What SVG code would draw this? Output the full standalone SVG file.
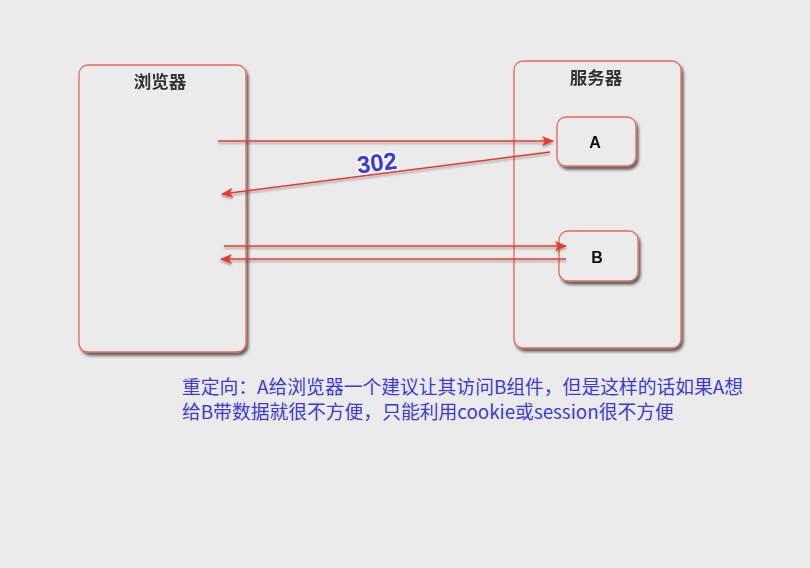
<svg xmlns="http://www.w3.org/2000/svg" width="810" height="568" viewBox="0 0 810 568">
<defs>
<style>
.box{fill:#ebebeb;stroke:#e8675a;stroke-width:1.3}
.title{font-family:"Liberation Sans","Noto Sans CJK SC",sans-serif;font-size:17.5px;font-weight:bold;fill:#333;text-anchor:middle}
.lbl{font-family:"Liberation Sans",sans-serif;font-size:16px;font-weight:bold;fill:#111;text-anchor:middle}
.conn{stroke:#e8392a;stroke-width:1.6;fill:none;marker-end:url(#ah)}
.note{font-family:"Noto Sans CJK SC",sans-serif;font-size:18.8px;fill:#3a3ad8}
</style>
<filter id="sh" x="-10%" y="-10%" width="130%" height="130%">
<feGaussianBlur in="SourceAlpha" stdDeviation="1.5"/>
<feOffset dx="2" dy="2.5" result="o"/>
<feComponentTransfer><feFuncA type="linear" slope="0.6"/></feComponentTransfer>
<feMerge><feMergeNode/><feMergeNode in="SourceGraphic"/></feMerge>
</filter>
<filter id="lsh" x="-5%" y="-50%" width="110%" height="200%">
<feGaussianBlur in="SourceAlpha" stdDeviation="1"/>
<feOffset dx="0" dy="1.5"/>
<feComponentTransfer><feFuncA type="linear" slope="0.35"/></feComponentTransfer>
<feMerge><feMergeNode/><feMergeNode in="SourceGraphic"/></feMerge>
</filter>
<marker id="ah" viewBox="0 0 12 10" refX="11" refY="5" markerWidth="12" markerHeight="10" markerUnits="userSpaceOnUse" orient="auto">
<path d="M0,0 L12,5 L0,10 L3,5 Z" fill="#e8392a"/>
</marker>
</defs>
<rect width="810" height="568" fill="#ebebeb"/>
<g id="browser" filter="url(#sh)">
<rect class="box" x="79" y="65" width="167" height="287" rx="9"/>
<text class="title" x="160" y="88">浏览器</text>
</g>
<g id="server" filter="url(#sh)">
<rect class="box" x="514" y="61" width="167" height="287" rx="9"/>
<text class="title" x="596" y="84">服务器</text>
</g>
<g id="nodeA" filter="url(#sh)">
<rect class="box" x="557" y="117" width="79" height="49" rx="9"/>
<text class="lbl" x="595" y="148">A</text>
</g>
<g id="nodeB" filter="url(#sh)">
<rect class="box" x="559" y="231" width="79" height="50" rx="9"/>
<text class="lbl" x="597" y="263">B</text>
</g>
<g id="connectors" filter="url(#lsh)">
<line class="conn" x1="218" y1="141" x2="553" y2="141"/>
<line class="conn" x1="550" y1="152" x2="222" y2="194"/>
<line class="conn" x1="224" y1="246" x2="566" y2="246"/>
<line class="conn" x1="566" y1="259" x2="221" y2="259"/>
</g>
<text x="377" y="171" transform="rotate(-7 377 163)" text-anchor="middle" font-family="Liberation Sans,sans-serif" font-size="24" font-weight="bold" fill="#3a3ad8" stroke="#ffffff" stroke-width="3" paint-order="stroke" stroke-linejoin="round">302</text>
<text class="note" x="182" y="394">重定向：A给浏览器一个建议让其访问B组件，但是这样的话如果A想</text>
<text class="note" x="182" y="419">给B带数据就很不方便，只能利用cookie或session很不方便</text>
</svg>
